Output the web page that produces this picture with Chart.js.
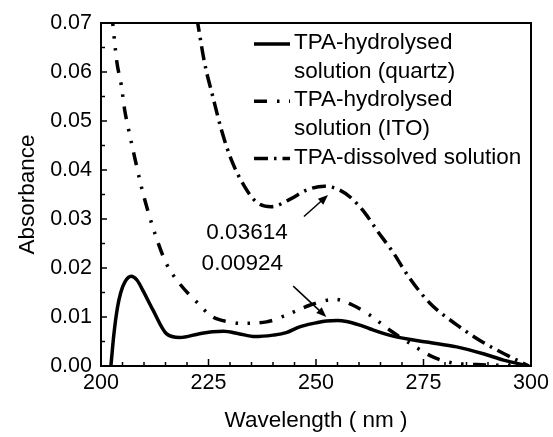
<!DOCTYPE html>
<html>
<head>
<meta charset="utf-8">
<script src="https://cdn.jsdelivr.net/npm/chart.js@4.4.0/dist/chart.umd.min.js"></script>
<style>
  body { margin: 0; background: #fff; }
  #wrap { width: 553px; height: 437px; }
</style>
</head>
<body>
<div id="wrap"><canvas id="absChart" width="553" height="437"></canvas></div>
<script>
// TPA-hydrolysed solution (quartz)
const quartzNm = [202.3, 203.0, 203.8, 204.6, 205.6, 207.0, 208.4, 209.7, 212.1, 215.2, 218.3, 222.9, 226.0, 228.5, 232.0, 235.8, 240.0, 243.1, 246.2, 250.0, 252.4, 255.0, 257.1, 260.0, 262.5, 267.9, 275.7, 282.7, 288.9, 293.6, 299.5]
const quartzAbs = [0.0, 0.0065, 0.0118, 0.0150, 0.0172, 0.0183, 0.0175, 0.0155, 0.0114, 0.0066, 0.0058, 0.0066, 0.0070, 0.0071, 0.0066, 0.0060, 0.0063, 0.0068, 0.0080, 0.0088, 0.0092, 0.0093, 0.0091, 0.0084, 0.0076, 0.0061, 0.0049, 0.0039, 0.0025, 0.0012, 0.0]

// TPA-hydrolysed solution (ITO)
const itoNm = [202.5, 203.7, 204.7, 205.5, 206.6, 207.8, 209.0, 210.4, 212.9, 215.2, 218.3, 222.2, 226.0, 229.9, 233.0, 238.5, 243.9, 248.5, 252.4, 254.5, 258.6, 262.5, 267.2, 272.6, 277.3, 282.0, 287.4, 293.6, 299.5]
const itoAbs = [0.072, 0.062, 0.0574, 0.0523, 0.0475, 0.0427, 0.038, 0.0332, 0.0261, 0.0209, 0.0168, 0.0131, 0.0100, 0.0090, 0.0087, 0.0090, 0.0107, 0.0124, 0.0134, 0.0136, 0.0124, 0.0104, 0.0073, 0.0042, 0.0018, 0.0006, 0.0003, 0.0001, 0.0]

// TPA-dissolved solution
const dissNm = [222.3, 224.1, 226.0, 228.0, 230.3, 233.4, 236.1, 239.6, 243.9, 247.8, 252.0, 255.5, 258.3, 261.4, 264.4, 267.6, 271.8, 276.5, 282.9, 288.9, 295.1, 299.5]
const dissAbs = [0.071, 0.0618, 0.055, 0.0482, 0.0421, 0.0366, 0.0335, 0.0325, 0.0340, 0.0359, 0.0367, 0.0359, 0.0342, 0.0312, 0.0274, 0.0236, 0.0179, 0.0128, 0.0083, 0.0048, 0.0019, 0.0]

const seriesNames = [['TPA-hydrolysed', 'solution (quartz)'], ['TPA-hydrolysed', 'solution (ITO)'], ['TPA-dissolved solution']]
const peakLabels = ['0.03614', '0.00924']

const xTicks = { min: 200, max: 300, step: 25, minor: 5 }
const yTicks = { min: 0, max: 0.07, step: 0.01, minor: 0.005 }

const FONT = 'Liberation Sans, Arial, sans-serif'
const dashes = [[], [13, 10, 2.5, 9.5, 2.5, 9.5], [14, 6, 2.5, 6]]
const widths = [3.5, 3.5, 3.5]

const toXY = (xs, ys) => xs.map((x, i) => ({ x: x, y: ys[i] }))

// box + inward ticks
const framePlugin = {
    id: 'frame',
    afterDraw(chart) {
        const { ctx, chartArea: a, scales } = chart
        ctx.save()
        ctx.strokeStyle = '#000'
        ctx.lineWidth = 2
        ctx.strokeRect(a.left, a.top, a.right - a.left, a.bottom - a.top)
        ctx.lineWidth = 1.5
        ctx.beginPath()
        for (let v = xTicks.min; v <= xTicks.max + 1e-9; v += xTicks.minor) {
            const px = scales.x.getPixelForValue(v)
            const len = Math.abs(v % xTicks.step) < 1e-6 ? 7 : 4
            ctx.moveTo(px, a.bottom)
            ctx.lineTo(px, a.bottom - len)
        }
        for (let i = 0; i <= Math.round((yTicks.max - yTicks.min) / yTicks.minor); i++) {
            const py = scales.y.getPixelForValue(yTicks.min + i * yTicks.minor)
            const len = i % 2 === 0 ? 6 : 4
            ctx.moveTo(a.left, py)
            ctx.lineTo(a.left + len, py)
        }
        ctx.stroke()
        ctx.restore()
    }
}

// peak values with arrows (anchors in data units)
const notes = [
    { text: peakLabels[0], at: [224.5, 0.0271], from: [247.2, 0.0305], to: [252.8, 0.0349] },
    { text: peakLabels[1], at: [223.4, 0.0209], from: [244.7, 0.0163], to: [252.4, 0.0100] }
]
const notesPlugin = {
    id: 'notes',
    afterDatasetsDraw(chart) {
        const { ctx, scales } = chart
        ctx.save()
        ctx.fillStyle = '#000'
        ctx.strokeStyle = '#000'
        ctx.font = '22.5px ' + FONT
        ctx.textAlign = 'left'
        ctx.textBaseline = 'middle'
        notes.forEach(n => {
            ctx.fillText(n.text, scales.x.getPixelForValue(n.at[0]), scales.y.getPixelForValue(n.at[1]))
            const x1 = scales.x.getPixelForValue(n.from[0]), y1 = scales.y.getPixelForValue(n.from[1])
            const x2 = scales.x.getPixelForValue(n.to[0]), y2 = scales.y.getPixelForValue(n.to[1])
            const ang = Math.atan2(y2 - y1, x2 - x1)
            ctx.lineWidth = 1.5
            ctx.beginPath()
            ctx.moveTo(x1, y1)
            ctx.lineTo(x2 - 6 * Math.cos(ang), y2 - 6 * Math.sin(ang))
            ctx.stroke()
            ctx.beginPath()
            ctx.moveTo(x2, y2)
            ctx.lineTo(x2 - 10 * Math.cos(ang) + 4 * Math.sin(ang), y2 - 10 * Math.sin(ang) - 4 * Math.cos(ang))
            ctx.lineTo(x2 - 10 * Math.cos(ang) - 4 * Math.sin(ang), y2 - 10 * Math.sin(ang) + 4 * Math.cos(ang))
            ctx.closePath()
            ctx.fill()
        })
        ctx.restore()
    }
}

// legend inside the plot, with wrapped names
const legendPlugin = {
    id: 'insideLegend',
    afterDraw(chart) {
        const { ctx, chartArea: a } = chart
        ctx.save()
        ctx.font = '22.5px ' + FONT
        ctx.fillStyle = '#000'
        ctx.strokeStyle = '#000'
        ctx.textAlign = 'left'
        ctx.textBaseline = 'middle'
        const sx0 = a.left + 153, sx1 = a.left + 189, tx = a.left + 193
        let line = 0
        seriesNames.forEach((name, i) => {
            const y = a.top + 20 + line * 28.6
            ctx.lineWidth = widths[i]
            ctx.setLineDash(dashes[i])
            ctx.beginPath()
            ctx.moveTo(sx0, y + 1)
            ctx.lineTo(sx1, y + 1)
            ctx.stroke()
            ctx.setLineDash([])
            name.forEach(t => {
                ctx.fillText(t, tx, a.top + 20 + line * 28.6)
                line++
            })
        })
        ctx.restore()
    }
}

const ctx = document.getElementById('absChart')
new Chart(ctx, {
    type: 'line',
    data: {
        datasets: [
            { label: seriesNames[0].join(' '), data: toXY(quartzNm, quartzAbs) },
            { label: seriesNames[1].join(' '), data: toXY(itoNm, itoAbs) },
            { label: seriesNames[2].join(' '), data: toXY(dissNm, dissAbs) }
        ].map((d, i) => Object.assign(d, {
            borderColor: '#000',
            borderWidth: widths[i],
            borderDash: dashes[i],
            pointRadius: 0,
            fill: false,
            cubicInterpolationMode: 'monotone'
        }))
    },
    options: {
        responsive: false,
        animation: false,
        layout: { padding: { top: 23, right: 22, left: 0, bottom: 0 } },
        plugins: { legend: { display: false }, tooltip: { enabled: false } },
        scales: {
            x: {
                type: 'linear',
                min: xTicks.min,
                max: xTicks.max,
                grid: { display: false, drawTicks: false },
                border: { display: false },
                ticks: { stepSize: xTicks.step, padding: 4, color: '#000', font: { family: FONT, size: 21.5 } },
                title: { display: true, text: 'Wavelength ( nm )', color: '#000', font: { family: FONT, size: 22.5 }, padding: { top: 0, bottom: 3 } },
                afterFit: s => { s.height = 71 }
            },
            y: {
                min: yTicks.min,
                max: yTicks.max,
                grid: { display: false, drawTicks: false },
                border: { display: false },
                ticks: { stepSize: yTicks.step, padding: 9, color: '#000', font: { family: FONT, size: 21.5 }, callback: v => v.toFixed(2) },
                title: { display: true, text: 'Absorbance', color: '#000', font: { family: FONT, size: 22.5 }, padding: { top: 14, bottom: 0 } },
                afterFit: s => { s.width = 101 }
            }
        }
    },
    plugins: [framePlugin, notesPlugin, legendPlugin]
})
</script>
</body>
</html>
